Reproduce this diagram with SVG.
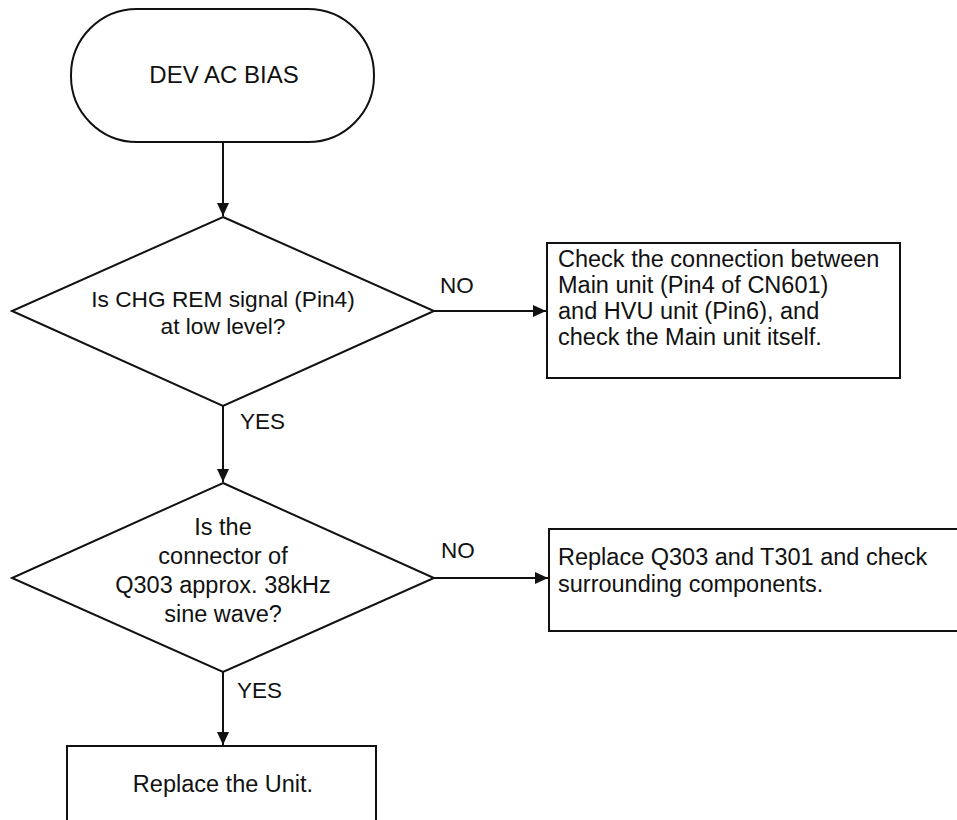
<svg xmlns="http://www.w3.org/2000/svg" width="957" height="820" viewBox="0 0 957 820">
<style>
.s{fill:#fff;stroke:#111;stroke-width:2}
.c{fill:none;stroke:#111;stroke-width:2}
text{font-family:"Liberation Sans",Arial,sans-serif;font-size:23.5px;fill:#111}
.m{text-anchor:middle}
.l{font-size:22.5px}
</style>
<defs>
<marker id="ah" markerWidth="14" markerHeight="14" refX="13" refY="6" orient="auto" markerUnits="userSpaceOnUse">
<path d="M0,0 L13,6 L0,12 Z" fill="#111"/>
</marker>
</defs>
<rect width="957" height="820" fill="#fff"/>
<g id="connectors">
<line class="c" x1="223" y1="142" x2="223" y2="216" marker-end="url(#ah)"/>
<line class="c" x1="223" y1="406" x2="223" y2="482" marker-end="url(#ah)"/>
<line class="c" x1="223" y1="672" x2="223" y2="745" marker-end="url(#ah)"/>
<line class="c" x1="433" y1="311" x2="546" y2="311" marker-end="url(#ah)"/>
<line class="c" x1="433" y1="578" x2="548" y2="578" marker-end="url(#ah)"/>
<text class="l" x="440" y="293">NO</text>
<text class="l" x="441" y="558">NO</text>
<text class="l" x="240" y="429">YES</text>
<text class="l" x="237" y="698">YES</text>
</g>
<g id="start">
<rect class="s" x="71" y="9" width="303" height="133" rx="66" ry="66"/>
<text class="m" x="224" y="83" style="font-size:24px">DEV AC BIAS</text>
</g>
<g id="decision1">
<polygon class="s" points="223,217 434,311 223,406 12,311"/>
<text class="m" x="223" y="307" style="font-size:22.7px">Is CHG REM signal (Pin4)</text>
<text class="m" x="223" y="334" style="font-size:22.7px">at low level?</text>
</g>
<g id="action1">
<rect class="s" x="547" y="243" width="353" height="135"/>
<text x="558" y="267">Check the connection between</text>
<text x="558" y="293">Main unit (Pin4 of CN601)</text>
<text x="558" y="319">and HVU unit (Pin6), and</text>
<text x="558" y="345">check the Main unit itself.</text>
</g>
<g id="decision2">
<polygon class="s" points="223,483 434,578 223,672 12,578"/>
<text class="m" x="223" y="535">Is the</text>
<text class="m" x="223" y="564">connector of</text>
<text class="m" x="223" y="593">Q303 approx. 38kHz</text>
<text class="m" x="223" y="622">sine wave?</text>
</g>
<g id="action2">
<rect class="s" x="549" y="529" width="420" height="102"/>
<text x="558" y="565">Replace Q303 and T301 and check</text>
<text x="558" y="592">surrounding components.</text>
</g>
<g id="end">
<rect class="s" x="67" y="746" width="309" height="90"/>
<text class="m" x="223" y="792">Replace the Unit.</text>
</g>
</svg>
